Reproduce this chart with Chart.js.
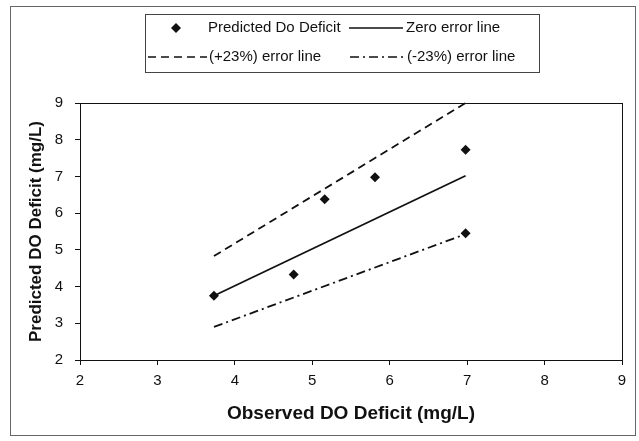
<!DOCTYPE html>
<html>
<head>
<meta charset="utf-8">
<title>Predicted vs Observed DO Deficit</title>
<script src="https://cdn.jsdelivr.net/npm/chart.js@4/dist/chart.umd.min.js"></script>
<style>
  html, body { margin: 0; padding: 0; background: #fff; }
  #wrap { width: 639px; height: 441px; }
</style>
</head>
<body>
<div id="wrap"><canvas id="doChart" width="639" height="441"></canvas></div>
<script>
/* ---- Data ---- */
const OBSERVED  = [3.73, 4.76, 5.16, 5.81, 6.98, 6.98];
const PREDICTED = [3.75, 4.33, 6.38, 6.98, 7.73, 5.45];

const ZERO_X  = [3.73, 6.98];
const ZERO_Y  = [3.75, 7.02];
const PLUS_X  = [3.73, 6.98];
const PLUS_Y  = [4.83, 9.0];
const MINUS_X = [3.73, 6.98];
const MINUS_Y = [2.9, 5.43];

const X_TICKS = [2, 3, 4, 5, 6, 7, 8, 9];
const Y_TICKS = [2, 3, 4, 5, 6, 7, 8, 9];

const FONT = '"Liberation Sans", Arial, sans-serif';
const INK  = '#111';

const toPoints = (xs, ys) => xs.map((x, i) => ({ x, y: ys[i] }));

/* ---- Frame + plot border + legend box ---- */
const framePlugin = {
  id: 'frame',
  beforeDraw(chart) {
    const ctx = chart.ctx;
    ctx.save();
    ctx.fillStyle = '#fff';
    ctx.fillRect(0, 0, chart.width, chart.height);
    ctx.strokeStyle = '#666';
    ctx.lineWidth = 1;
    ctx.strokeRect(10.5, 6.5, 625, 429);
    ctx.restore();
  },
  afterDraw(chart) {
    const ctx = chart.ctx;
    const a = chart.chartArea;
    ctx.save();
    ctx.strokeStyle = INK;
    ctx.lineWidth = 1;
    ctx.strokeRect(a.left + 0.5, a.top + 0.5, a.right - a.left, a.bottom - a.top);

    // legend box
    ctx.strokeStyle = '#444';
    ctx.strokeRect(145.5, 14.5, 394, 58);
    ctx.fillStyle = INK;
    ctx.font = '15px ' + FONT;
    ctx.textBaseline = 'middle';

    // diamond marker
    ctx.beginPath();
    ctx.moveTo(176, 23); ctx.lineTo(181, 28); ctx.lineTo(176, 33); ctx.lineTo(171, 28);
    ctx.closePath();
    ctx.fill();
    ctx.fillText('Predicted Do Deficit', 208, 28);

    const sample = (x0, x1, y, dash) => {
      ctx.beginPath();
      ctx.setLineDash(dash);
      ctx.lineWidth = 1.6;
      ctx.moveTo(x0, y); ctx.lineTo(x1, y);
      ctx.stroke();
      ctx.setLineDash([]);
    };
    ctx.strokeStyle = INK;
    sample(349, 403, 28, []);
    ctx.fillText('Zero error line', 406, 28);
    sample(148, 207, 57, [8, 5]);
    ctx.fillText('(+23%) error line', 209, 57);
    sample(350, 405, 57, [9, 4, 2, 4]);
    ctx.fillText('(-23%) error line', 407, 57);
    ctx.restore();
  }
};

/* ---- Chart ---- */
const lineSet = (label, xs, ys, dash) => ({
  label,
  data: toPoints(xs, ys),
  showLine: true,
  borderColor: INK,
  borderWidth: 1.8,
  borderDash: dash,
  pointRadius: 0,
  fill: false,
  clip: false
});

new Chart(document.getElementById('doChart').getContext('2d'), {
  type: 'scatter',
  data: {
    datasets: [
      {
        label: 'Predicted Do Deficit',
        data: toPoints(OBSERVED, PREDICTED),
        pointStyle: 'rectRot',
        pointRadius: 5,
        pointBackgroundColor: INK,
        pointBorderColor: INK,
        pointBorderWidth: 0
      },
      lineSet('Zero error line', ZERO_X, ZERO_Y, []),
      lineSet('(+23%) error line', PLUS_X, PLUS_Y, [8, 5]),
      lineSet('(-23%) error line', MINUS_X, MINUS_Y, [9, 4, 2, 4])
    ]
  },
  options: {
    responsive: false,
    animation: false,
    layout: { padding: { top: 103, right: 17, left: 0, bottom: 0 } },
    plugins: { legend: { display: false }, tooltip: { enabled: false } },
    scales: {
      x: {
        type: 'linear',
        min: 2, max: 9,
        afterFit: s => { s.height = 81; },
        afterBuildTicks: s => { s.ticks = X_TICKS.map(v => ({ value: v })); },
        ticks: { color: INK, padding: 7, font: { family: FONT, size: 15 } },
        grid: { drawOnChartArea: false, drawTicks: true, tickLength: 5, color: INK },
        border: { display: true, color: INK },
        title: {
          display: true,
          text: 'Observed DO Deficit (mg/L)',
          color: INK,
          padding: { top: 0, bottom: 16 },
          font: { family: FONT, size: 19, weight: 'bold' }
        }
      },
      y: {
        type: 'linear',
        min: 2, max: 9,
        afterFit: s => { s.width = 80; },
        afterBuildTicks: s => { s.ticks = Y_TICKS.map(v => ({ value: v })); },
        ticks: { color: INK, padding: 12, font: { family: FONT, size: 15 } },
        grid: { drawOnChartArea: false, drawTicks: true, tickLength: 5, color: INK },
        border: { display: true, color: INK },
        title: {
          display: true,
          text: 'Predicted DO Deficit (mg/L)',
          color: INK,
          padding: { top: 26, bottom: 0 },
          font: { family: FONT, size: 17, weight: 'bold' }
        }
      }
    }
  },
  plugins: [framePlugin]
});
</script>
</body>
</html>
